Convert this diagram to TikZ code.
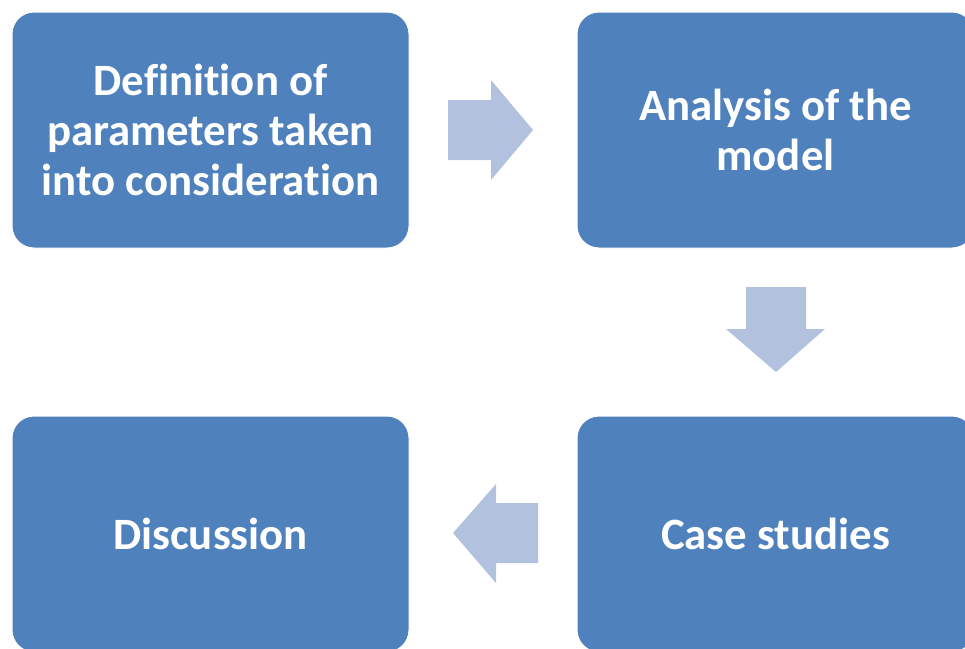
\documentclass[tikz,border=0pt]{standalone}
\usepackage{fontspec}
\setmainfont{Carlito}[Ligatures={NoCommon,NoRare,NoContextual}]
\definecolor{boxblue}{HTML}{4F81BD}
\definecolor{arrowblue}{HTML}{B2C1DD}
\begin{document}
\begin{tikzpicture}[x=1pt,y=-1pt,
  stagebox/.style={rectangle, rounded corners=22pt, fill=boxblue, draw=white, line width=1pt,
    minimum width=397pt, minimum height=236pt, inner sep=0pt, text=white, align=center,
    font=\bfseries\fontsize{44.8}{50}\selectfont},
  blockarrow/.style={fill=arrowblue}]
\useasboundingbox (0,0) rectangle (965,648);
\clip (0,0) rectangle (965,648);
\node[stagebox] (a) at (210.5,130) {Definition of\\parameters taken\\into consideration};
\node[stagebox] (b) at (775.5,130) {Analysis of the\\model};
\node[stagebox] (c) at (775.5,534) {Case studies};
\node[stagebox] (d) at (210.5,534) {Discussion};
% block arrows between stages
\fill[blockarrow] (448,100) -- (491,100) -- (491,80) -- (533,130) -- (491,180) -- (491,160) -- (448,160) -- cycle;
\fill[blockarrow] (746,287) -- (806,287) -- (806,329) -- (825,329) -- (776,372) -- (726,329) -- (746,329) -- cycle;
\fill[blockarrow] (538,503) -- (496,503) -- (496,484) -- (453,533) -- (496,583) -- (496,563) -- (538,563) -- cycle;
\end{tikzpicture}
\end{document}
